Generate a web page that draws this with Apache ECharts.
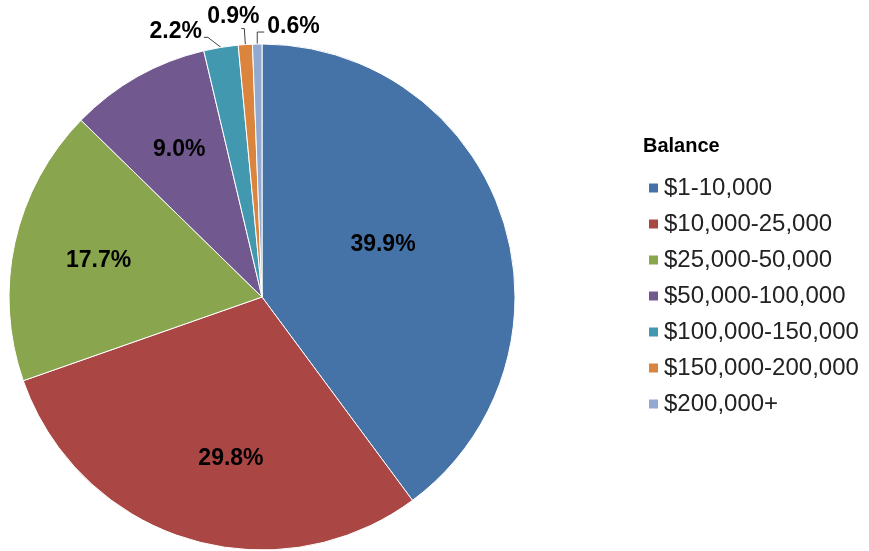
<!DOCTYPE html>
<html>
<head>
<meta charset="utf-8">
<script src="https://cdn.jsdelivr.net/npm/echarts@6/dist/echarts.min.js"></script>
<style>
  html, body { margin: 0; padding: 0; background: #fff; }
  #main { width: 869px; height: 551px; }
</style>
</head>
<body>
<div id="main"></div>
<script>
  // balance bands and their share of accounts (%)
  var bands = ['$1-10,000', '$10,000-25,000', '$25,000-50,000', '$50,000-100,000',
    '$100,000-150,000', '$150,000-200,000', '$200,000+']
  var shares = [39.9, 29.8, 17.7, 9.0, 2.2, 0.9, 0.6]
  var colors = ['#4572A7', '#AA4643', '#89A54E', '#71588F', '#4198AF', '#DB843D', '#93A9CF']

  // nudges for the labels so they sit where the original puts them
  var innerShift = [[-2, -12], [7, 38], [-37, -8], [-19, -35]]
  var leadSteps = { 4: [[-13, -10], [-4, 0]], 5: [[-1, -16], [-3, 0]], 6: [[0, -12], [7, 0]] }
  var leadText = { 4: ['right', -2, -6], 5: ['center', -8, -12], 6: ['left', 3, -5] }

  var font = "'Liberation Sans', Arial, sans-serif"

  var chart = echarts.init(document.getElementById('main'))
  chart.setOption({
    animation: false,
    color: colors,
    title: {
      text: 'Balance',
      left: 643,
      top: 136,
      padding: 0,
      textStyle: { fontFamily: font, fontSize: 20, fontWeight: 'bold', color: '#000' },
    },
    legend: {
      orient: 'vertical',
      left: 647,
      top: 176,
      padding: 0,
      itemGap: 12,
      itemWidth: 11,
      itemHeight: 11,
      icon: 'rect',
      data: bands,
      textStyle: { fontFamily: font, fontSize: 24, lineHeight: 24, color: '#222' },
    },
    series: [
      {
        type: 'pie',
        center: [262, 297],
        radius: 253,
        startAngle: 90,
        clockwise: true,
        avoidLabelOverlap: false,
        itemStyle: { borderColor: '#fff', borderWidth: 1 },
        label: {
          formatter: function (p) {
            return p.value.toFixed(1) + '%'
          },
          fontFamily: font,
          fontSize: 23,
          fontWeight: 'bold',
          color: '#000',
        },
        labelLine: {
          show: true,
          length: 12,
          length2: 5,
          lineStyle: { color: '#404040', width: 1 },
        },
        data: bands.map(function (b, i) {
          return {
            name: b,
            value: shares[i],
            label: { position: shares[i] < 3 ? 'outside' : 'inside' },
          }
        }),
        labelLayout: function (p) {
          var i = p.dataIndex
          if (i < 4) {
            return { dx: innerShift[i][0], dy: innerShift[i][1] }
          }
          var pts = p.labelLinePoints
          if (!pts) return {}
          var p0 = pts[0]
          var s = leadSteps[i]
          var p1 = [p0[0] + s[0][0], p0[1] + s[0][1]]
          var p2 = [p1[0] + s[1][0], p1[1] + s[1][1]]
          var t = leadText[i]
          return {
            x: p2[0] + t[1],
            y: p2[1] + t[2],
            align: t[0],
            verticalAlign: 'middle',
            labelLinePoints: [p0, p1, p2],
          }
        },
      },
    ],
  })

  window.onresize = function () {
    chart.resize()
  }
</script>
</body>
</html>
